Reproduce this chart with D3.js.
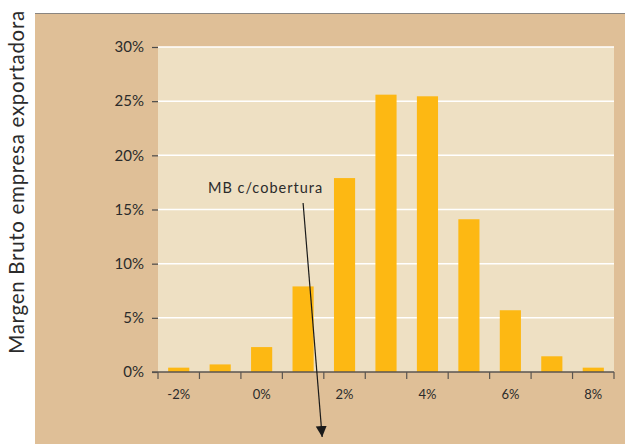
<!DOCTYPE html>
<html>
<head>
<meta charset="utf-8">
<script src="https://cdn.jsdelivr.net/npm/d3@7"></script>
<style>
  body { margin: 0; background: #fff; }
  text { font-family: "Lato", "DejaVu Sans", sans-serif; fill: #2b2b2b; }
</style>
</head>
<body>
<div id="container"></div>
<script>
const categories = ["-2%", "-1%", "0%", "1%", "2%", "3%", "4%", "5%", "6%", "7%", "8%"];
const values = [0.4, 0.7, 2.3, 7.9, 17.9, 25.6, 25.45, 14.1, 5.7, 1.45, 0.4];
const xLabels = ["-2%", "0%", "2%", "4%", "6%", "8%"];
const yTicks = [0, 5, 10, 15, 20, 25, 30];
const yTitle = "Margen Bruto empresa exportadora";
const noteText = "MB c/cobertura";
// arrow annotation, in data units: [category index offset, %]
const arrowFrom = [3, 15.6];
const arrowTo = [3.46, -6];

const width = 625;
const height = 444;
const padding = { top: 47, bot: 72, left: 158, right: 11 };

const svg = d3.select("#container")
              .append("svg")
              .attr("width", width)
              .attr("height", height);

// outer panel
svg.append("rect")
   .attr("x", 35).attr("y", 13)
   .attr("width", width - 35).attr("height", height - 13)
   .style("fill", "#dfbf97");
svg.append("line")
   .attr("x1", 35).attr("x2", width)
   .attr("y1", 13.5).attr("y2", 13.5)
   .style("stroke", "#8a8580").style("stroke-width", 1);

const xScale = d3.scaleBand()
                 .domain(categories)
                 .range([padding.left, width - padding.right])
                 .paddingInner(0.49)
                 .paddingOuter(0.245);
const yScale = d3.scaleLinear()
                 .domain([0, 30])
                 .range([height - padding.bot, padding.top]);
const step = xScale.step();
const bandStart = (c) => xScale(c) - xScale.paddingInner() * step / 2;

// plot area
svg.append("rect")
   .attr("x", padding.left).attr("y", yScale(30))
   .attr("width", width - padding.right - padding.left)
   .attr("height", yScale(0) - yScale(30))
   .style("fill", "#eee0c3");

svg.append("g")
   .selectAll("line")
   .data(yTicks.filter((d) => d > 0))
   .enter()
   .append("line")
   .attr("x1", padding.left).attr("x2", width - padding.right)
   .attr("y1", (d) => yScale(d)).attr("y2", (d) => yScale(d))
   .style("stroke", "#fff").style("stroke-width", 1.5);

// bars
svg.append("g")
   .selectAll("rect")
   .data(values)
   .enter()
   .append("rect")
   .attr("x", (d, i) => xScale(categories[i]))
   .attr("y", (d) => yScale(d))
   .attr("width", xScale.bandwidth())
   .attr("height", (d) => yScale(0) - yScale(d))
   .style("fill", "#fdb813");

// y axis
const yAxis = d3.axisLeft(yScale)
                .tickValues(yTicks)
                .tickSize(6)
                .tickPadding(8)
                .tickFormat((d) => d + "%");
const yg = svg.append("g")
   .attr("transform", "translate(" + padding.left + ", 0)")
   .call(yAxis);
yg.select(".domain").remove();
yg.selectAll("line").style("stroke", "#4a4a4a").style("stroke-width", 1.2);
yg.selectAll("text").style("font-size", "15px").style("fill", "#2b2b2b");

// x axis
svg.append("line")
   .attr("x1", padding.left - 6).attr("x2", width - padding.right)
   .attr("y1", yScale(0)).attr("y2", yScale(0))
   .style("stroke", "#5a5550").style("stroke-width", 1.5);
const tickPos = categories.map((c) => bandStart(c)).concat([width - padding.right]);
svg.append("g")
   .selectAll("line")
   .data(tickPos)
   .enter()
   .append("line")
   .attr("x1", (d) => d).attr("x2", (d) => d)
   .attr("y1", yScale(0)).attr("y2", yScale(0) + 7)
   .style("stroke", "#5a5550").style("stroke-width", 1.2);
svg.append("g")
   .selectAll("text")
   .data(xLabels)
   .enter()
   .append("text")
   .text((d) => d)
   .attr("x", (d) => xScale(d) + xScale.bandwidth() / 2)
   .attr("y", yScale(0) + 27)
   .attr("text-anchor", "middle")
   .style("font-size", "13px");

// y title
svg.append("text")
   .text(yTitle)
   .attr("transform", "translate(24, " + 182 + ")rotate(270)")
   .attr("text-anchor", "middle")
   .style("font-size", "20.5px")
   .style("letter-spacing", "0.7px");

// annotation
const ax = (v) => padding.left + (v[0] + 0.5) * step;
svg.append("defs")
   .append("marker")
   .attr("id", "arrow")
   .attr("viewBox", "0 0 10 10")
   .attr("refX", 10).attr("refY", 5)
   .attr("markerWidth", 11).attr("markerHeight", 14)
   .attr("markerUnits", "userSpaceOnUse")
   .attr("orient", "auto")
   .append("path")
   .attr("d", "M0,0L10,5L0,10Z")
   .style("fill", "#1a1a1a");
svg.append("line")
   .attr("x1", ax(arrowFrom)).attr("y1", yScale(arrowFrom[1]))
   .attr("x2", ax(arrowTo)).attr("y2", yScale(arrowTo[1]))
   .attr("marker-end", "url(#arrow)")
   .style("stroke", "#1a1a1a").style("stroke-width", 1.2);
svg.append("text")
   .text(noteText)
   .attr("x", 208)
   .attr("y", 193)
   .style("font-size", "14.5px")
   .style("letter-spacing", "1px");
</script>
</body>
</html>
